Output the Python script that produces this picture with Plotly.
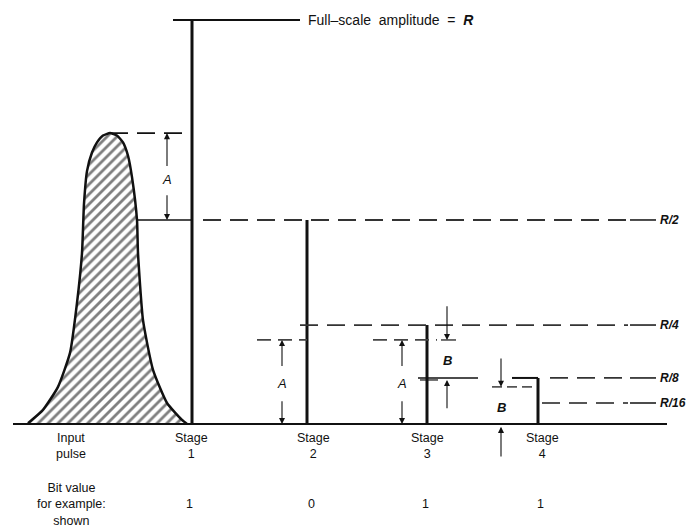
import plotly.graph_objects as go

# amplitudes as fractions of full scale R (baseline = 0, full scale = 1)
full_scale = 1.0
pulse_peak = 0.72
ref_levels = [0.505, 0.245, 0.114, 0.052]
ref_labels = ["R/2", "R/4", "R/8", "R/16"]
residual_A = 0.208
residual_B = 0.092

# input pulse outline (x position, amplitude)
pulse_x = [28, 43, 58, 70, 77, 82, 84, 87, 92, 97, 103, 110, 117, 123, 128, 132, 137, 138, 143, 153, 167, 182, 187]
pulse_y = [0.002, 0.035, 0.092, 0.176, 0.300, 0.423, 0.545, 0.626, 0.672, 0.697, 0.714, 0.720, 0.714,
           0.697, 0.664, 0.611, 0.505, 0.423, 0.257, 0.134, 0.052, 0.010, 0.0]

# comparator stages
stage_x = [192, 307, 427, 538]
stage_level = [1.0, 0.505, 0.245, 0.114]
stage_names = ["Stage<br>1", "Stage<br>2", "Stage<br>3", "Stage<br>4"]
bit_values = ["1", "0", "1", "1"]
bit_x = [189, 311, 425, 540]

INK = "#111111"
FONT = "Liberation Sans, Arial, sans-serif"

fig = go.Figure()


def seg(x0, x1, y0, y1, width=2, dash="solid", color=INK):
    fig.add_trace(go.Scatter(x=[x0, x1], y=[y0, y1], mode="lines",
                             line=dict(color=color, width=width, dash=dash),
                             hoverinfo="skip", showlegend=False))


DASH = "18px,9px"

# hatched input pulse
fig.add_trace(go.Scatter(x=pulse_x, y=pulse_y, mode="lines", fill="toself",
                         line=dict(color=INK, width=2.5, shape="spline", smoothing=0.5),
                         fillcolor="white",
                         fillpattern=dict(shape="/", size=7, solidity=0.4, fgcolor="#000", bgcolor="white"),
                         hoverinfo="skip", showlegend=False))

# baseline
seg(13, 667, 0, 0, width=2)

# stage bars
for sx, lv in zip(stage_x, stage_level):
    seg(sx, sx, 0, lv, width=3)

# full scale
seg(173, 300, full_scale, full_scale, width=2)

# pulse peak and R/2 at stage 1
seg(110, 192, pulse_peak, pulse_peak, dash=DASH, width=1.8)
seg(137, 192, ref_levels[0], ref_levels[0], width=1.5)

# reference levels
seg(203, 632, ref_levels[0], ref_levels[0], dash=DASH, width=1.8, color="#333")
seg(300, 628, ref_levels[1], ref_levels[1], dash=DASH, width=1.8, color="#333")
seg(418, 478, ref_levels[2], ref_levels[2], width=1.5)
seg(512, 538, ref_levels[2], ref_levels[2], width=2)
seg(550, 628, ref_levels[2], ref_levels[2], dash=DASH, width=1.8, color="#333")
seg(542, 628, ref_levels[3], ref_levels[3], dash=DASH, width=1.8, color="#555")
for lv in ref_levels:
    seg(630, 656, lv, lv, width=1.5)

# residual A marks
seg(257, 307, residual_A, residual_A, dash="14px,7px", width=1.8, color="#444")
seg(373, 437, residual_A, residual_A, dash="14px,7px", width=1.8, color="#444")
seg(441, 456, residual_A, residual_A, width=1.2)
seg(420, 438, 0.109, 0.109, width=1.2)
seg(492, 535, residual_B, residual_B, dash="10px,5px", width=1.8, color="#555")

# labels on the right
for lv, name in zip(ref_levels, ref_labels):
    fig.add_annotation(x=658, y=lv, text="<b><i>" + name + "</i></b>", showarrow=False,
                       xanchor="left", yanchor="middle", font=dict(size=12, color=INK, family=FONT))

fig.add_annotation(x=306, y=full_scale, text="Full\u2013scale  amplitude  =  <b><i>R</i></b>",
                   showarrow=False, xanchor="left", yanchor="middle",
                   font=dict(size=14, color=INK, family=FONT))

# dimension arrows (x, tip amplitude, tail amplitude)
arrows = [
    (167, pulse_peak, 0.635), (167, ref_levels[0], 0.570),
    (282, residual_A, 0.140), (282, 0.0, 0.060),
    (402, residual_A, 0.140), (402, 0.0, 0.060),
    (447, residual_A, 0.295), (447, 0.109, 0.035),
    (501, residual_B, 0.166), (501, -0.007, -0.084),
]
for ax_, tip, tail in arrows:
    fig.add_annotation(x=ax_, y=tip, ax=ax_, ay=tail, axref="x", ayref="y",
                       text="", showarrow=True, arrowhead=2, arrowsize=1.1,
                       arrowwidth=1.1, arrowcolor=INK)

dim_labels = [(167, 0.604, "A"), (282, 0.100, "A"), (402, 0.100, "A"),
              (447, 0.158, "B"), (501, 0.042, "B")]
for lx, ly, t in dim_labels:
    fig.add_annotation(x=lx, y=ly, text="<b><i>" + t + "</i></b>" if t == "B" else "<i>" + t + "</i>",
                       showarrow=False, bgcolor="white",
                       font=dict(size=13, color=INK, family=FONT))

# bottom captions
fig.add_annotation(x=71, y=-0.054, text="Input<br>pulse", showarrow=False,
                   font=dict(size=12.5, color=INK, family=FONT))
for sx, name in zip(bit_x, stage_names):
    fig.add_annotation(x=sx + 2, y=-0.054, text=name, showarrow=False,
                       font=dict(size=12.5, color=INK, family=FONT))
fig.add_annotation(x=71, y=-0.198, text="Bit value<br>for example:<br>shown", showarrow=False,
                   font=dict(size=12.5, color=INK, family=FONT))
for bx, bv in zip(bit_x, bit_values):
    fig.add_annotation(x=bx, y=-0.198, text=bv, showarrow=False,
                       font=dict(size=12.5, color=INK, family=FONT))

# the page body adds an 8px offset, so the figure is 8px smaller and the ranges start there
fig.update_layout(
    width=686, height=524,
    margin=dict(l=0, r=0, t=0, b=0),
    paper_bgcolor="white", plot_bgcolor="white",
    xaxis=dict(range=[8, 694], visible=False, fixedrange=True),
    yaxis=dict(range=[-0.2673, 1.0297], visible=False, fixedrange=True),
    showlegend=False,
)

fig.write_html("out.html")
